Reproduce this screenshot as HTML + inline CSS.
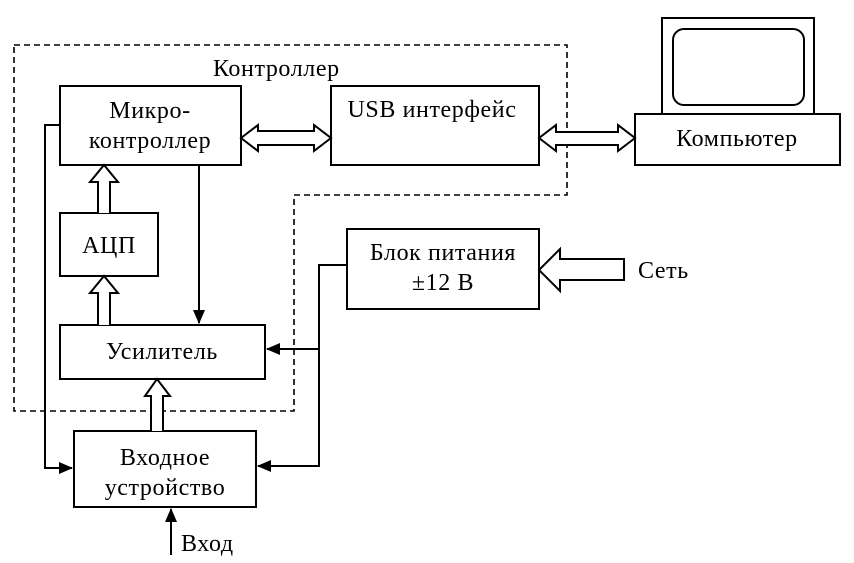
<!DOCTYPE html>
<html><head><meta charset="utf-8"><style>
html,body{margin:0;padding:0;background:#fff;}
svg{display:block;}
text{font-family:"Liberation Serif",serif;font-size:24px;letter-spacing:0.6px;fill:#000;}
</style></head><body>
<svg width="854" height="563" viewBox="0 0 854 563" xmlns="http://www.w3.org/2000/svg">
<defs>
<marker id="ah" markerWidth="14" markerHeight="12" refX="13" refY="6" orient="auto" markerUnits="userSpaceOnUse">
<path d="M0,0 L14,6 L0,12 z" fill="#000"/>
</marker>
</defs>
<g fill="none" stroke="#000" stroke-width="2">
<path d="M14,45 H567 V195 H294 V411 H14 Z" stroke-dasharray="6,4" stroke-width="1.6"/>
<rect x="60" y="86" width="181" height="79" fill="#fff"/>
<rect x="331" y="86" width="208" height="79" fill="#fff"/>
<rect x="662" y="18" width="152" height="96"/>
<rect x="673" y="29" width="131" height="76" rx="11"/>
<rect x="635" y="114" width="205" height="51" fill="#fff"/>
<rect x="60" y="213" width="98" height="63"/>
<rect x="60" y="325" width="205" height="54"/>
<rect x="347" y="229" width="192" height="80"/>
<rect x="74" y="431" width="182" height="76"/>
<path d="M241,138 L258,125 V131 H314 V125 L331,138 L314,151 V145 H258 V151 Z" fill="#fff"/>
<path d="M539,138 L556,125 V132 H618 V125 L635,138 L618,151 V145 H556 V151 Z" fill="#fff"/>
<path d="M98,213 V182 H90 L104,165 L118,182 H110 V213" fill="#fff"/>
<path d="M98,325 V293 H90 L104,276 L118,293 H110 V325" fill="#fff"/>
<path d="M151,431 V396 H145 L157,379 L170,396 H163 V431" fill="#fff"/>
<path d="M624,259 H560 V249 L539,270 L560,291 V280 H624 Z" fill="#fff"/>
<path d="M199,165 V323" marker-end="url(#ah)"/>
<path d="M347,265 H319 V466 H258" marker-end="url(#ah)"/>
<path d="M319,349 H267" marker-end="url(#ah)"/>
<path d="M60,125 H45 V468 H72" marker-end="url(#ah)"/>
<path d="M171,555 V509" marker-end="url(#ah)"/>
</g>
<text x="213" y="76">Контроллер</text>
<text x="150" y="118" text-anchor="middle">Микро-</text>
<text x="150" y="148" text-anchor="middle">контроллер</text>
<text x="432" y="117" text-anchor="middle">USB интерфейс</text>
<text x="737" y="146" text-anchor="middle">Компьютер</text>
<text x="109" y="253" text-anchor="middle">АЦП</text>
<text x="162" y="359" text-anchor="middle">Усилитель</text>
<text x="443" y="260" text-anchor="middle">Блок питания</text>
<text x="443" y="290" text-anchor="middle">±12 В</text>
<text x="638" y="278">Сеть</text>
<text x="165" y="465" text-anchor="middle">Входное</text>
<text x="165" y="495" text-anchor="middle">устройство</text>
<text x="181" y="551">Вход</text>
</svg>
</body></html>
